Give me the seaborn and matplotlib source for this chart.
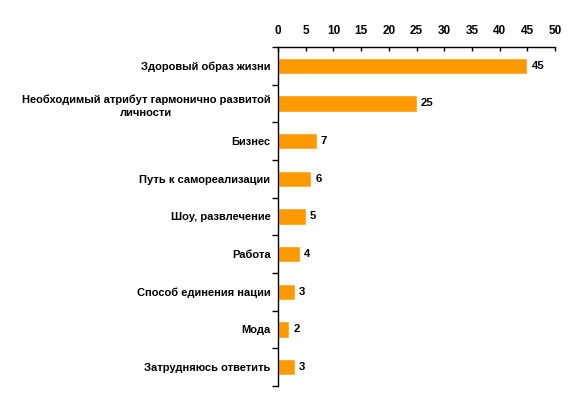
import matplotlib
matplotlib.use("Agg")
import matplotlib.pyplot as plt
import seaborn as sns
import pandas as pd
import numpy as np

categories = [
    "Здоровый образ жизни",
    "Необходимый атрибут гармонично развитой\nличности",
    "Бизнес",
    "Путь к самореализации",
    "Шоу, развлечение",
    "Работа",
    "Способ единения нации",
    "Мода",
    "Затрудняюсь ответить",
]
values = [45, 25, 7, 6, 5, 4, 3, 2, 3]
x_ticks = [0, 5, 10, 15, 20, 25, 30, 35, 40, 45, 50]

sns.set_style("white")
plt.rcParams["font.family"] = ["Liberation Sans", "DejaVu Sans"]
plt.rcParams["font.weight"] = "bold"
plt.rcParams["text.color"] = "black"
plt.rcParams["xtick.color"] = "black"
plt.rcParams["ytick.color"] = "black"

df = pd.DataFrame({"cat": categories, "val": values})

fig = plt.figure(figsize=(5.82, 4.0), dpi=100)
ax = fig.add_axes([0.4777, 0.035, 0.4759, 0.8475])

sns.barplot(data=df, x="val", y="cat", orient="h", color="#FF9900",
            saturation=1, width=0.43, ax=ax)

ax.set_xlim(0, 50)
ax.set_ylim(len(categories) - 0.5, -0.5)
ax.set_xlabel("")
ax.set_ylabel("")

ax.xaxis.tick_top()
ax.set_xticks(x_ticks)
ax.set_xticklabels([str(t) for t in x_ticks], fontsize=8.5, fontweight="bold")
ax.tick_params(axis="x", direction="in", length=3, width=1, pad=7,
               colors="black", top=True)

ax.set_yticks(np.arange(len(categories)))
ax.set_yticklabels(categories, fontsize=8, fontweight="bold",
                   multialignment="center", linespacing=1.45)
ax.set_yticks(np.arange(len(categories) + 1) - 0.5, minor=True)
ax.tick_params(axis="y", which="major", length=0, pad=5.5, colors="black")
ax.tick_params(axis="y", which="minor", direction="out", length=4, width=1,
               left=True, color="black")

for s in ["right", "bottom"]:
    ax.spines[s].set_visible(False)
for s in ["top", "left"]:
    ax.spines[s].set_color("black")
    ax.spines[s].set_linewidth(1)

for i, v in enumerate(values):
    ax.annotate(str(v), (v, i), xytext=(3, 0), textcoords="offset points",
                va="center", ha="left", fontsize=8.2, fontweight="bold",
                color="black")

fig.savefig("out.png", dpi=100)
